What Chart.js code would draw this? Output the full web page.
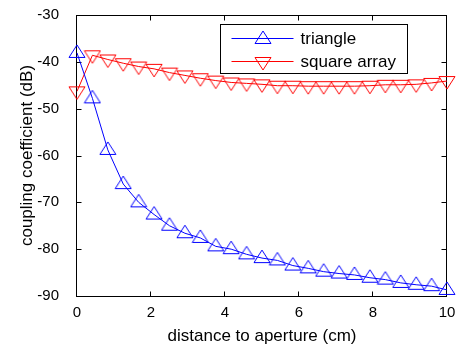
<!DOCTYPE html>
<html><head><meta charset="utf-8">
<script src="https://cdn.jsdelivr.net/npm/chart.js@4/dist/chart.umd.min.js"></script>
<style>html,body{margin:0;padding:0;background:#fff;overflow:hidden;}</style>
</head><body>
<canvas id="c" width="458" height="347"></canvas>
<script>
// ---- data ----
const distance = [0, 0.417, 0.833, 1.25, 1.667, 2.083, 2.5, 2.917, 3.333, 3.75, 4.167, 4.583, 5, 5.417, 5.833, 6.25, 6.667, 7.083, 7.5, 7.917, 8.333, 8.75, 9.167, 9.583, 10];
const triangle = [-38.1, -47.8, -58.8, -66.1, -70.0, -72.6, -75.0, -76.6, -77.6, -79.4, -80.0, -81.1, -81.9, -82.4, -83.5, -84.1, -84.8, -85.2, -85.5, -86.1, -86.5, -87.2, -87.6, -87.9, -88.7];
const squareArray = [-46.3, -38.6, -39.5, -40.3, -41.0, -41.5, -42.3, -42.9, -43.5, -44.0, -44.4, -44.6, -44.8, -45.1, -45.1, -45.2, -45.2, -45.2, -45.2, -45.1, -44.9, -44.9, -44.8, -44.5, -44.1];
const xTicks = [0, 2, 4, 6, 8, 10];
const yTicks = [-90, -80, -70, -60, -50, -40, -30];
const seriesNames = ['triangle', 'square array'];
const xTitle = 'distance to aperture (cm)';
const yTitle = 'coupling coefficient (dB)';

const FONT = 'Liberation Sans, Arial, Helvetica, sans-serif';

function makeTri(color, down) {
  const c = document.createElement('canvas');
  c.width = 18; c.height = 18;
  const g = c.getContext('2d');
  g.strokeStyle = color; g.lineWidth = 1;
  g.beginPath();
  if (!down) { g.moveTo(9, 1); g.lineTo(17, 13.5); g.lineTo(1, 13.5); }
  else { g.moveTo(1, 4.5); g.lineTo(17, 4.5); g.lineTo(9, 17); }
  g.closePath(); g.stroke();
  return c;
}
const triUp = makeTri('#0000ff', false);
const triDown = makeTri('#ff0000', true);

const boxPlugin = {
  id: 'box',
  beforeDatasetsDraw(chart) {
    const {ctx, chartArea: a, scales} = chart;
    ctx.save();
    ctx.strokeStyle = '#000'; ctx.lineWidth = 1;
    const L = Math.round(a.left) - 0.5, R = Math.round(a.right) - 0.5;
    const T = Math.round(a.top) + 0.5, B = Math.round(a.bottom) + 0.5;
    ctx.strokeRect(L, T, R - L, B - T);
    const tl = 5;
    ctx.beginPath();
    xTicks.forEach(v => {
      const p = Math.round(scales.x.getPixelForValue(v)) - 0.5;
      ctx.moveTo(p, B); ctx.lineTo(p, B - tl);
      ctx.moveTo(p, T); ctx.lineTo(p, T + tl);
    });
    yTicks.forEach(v => {
      const p = Math.round(scales.y.getPixelForValue(v)) + 0.5;
      ctx.moveTo(L, p); ctx.lineTo(L + tl, p);
      ctx.moveTo(R, p); ctx.lineTo(R - tl, p);
    });
    ctx.stroke();
    ctx.restore();
  }
};

const legendPlugin = {
  id: 'mlegend',
  afterDatasetsDraw(chart) {
    const {ctx, chartArea: a} = chart;
    const w = 187, h = 49;
    const left = Math.round(a.right) - 40 - w + 0.5;
    const top = Math.round(a.top) + 9 + 0.5;
    ctx.save();
    ctx.fillStyle = '#fff';
    ctx.fillRect(left, top, w, h);
    ctx.strokeStyle = '#000'; ctx.lineWidth = 1;
    ctx.strokeRect(left, top, w, h);
    chart.data.datasets.forEach((ds, i) => {
      const y = Math.round(top + 13 + i * 23) + 0.5;
      ctx.strokeStyle = ds.borderColor;
      ctx.beginPath(); ctx.moveTo(left + 11, y); ctx.lineTo(left + 73, y); ctx.stroke();
      const img = ds.pointStyle;
      ctx.drawImage(img, Math.round(left + 42) - 9, Math.round(y) - 9);
      ctx.fillStyle = '#000';
      ctx.font = '17px ' + FONT;
      ctx.textBaseline = 'middle';
      ctx.textAlign = 'left';
      ctx.fillText(ds.label, left + 80, y + 1);
    });
    ctx.restore();
  }
};

new Chart(document.getElementById('c'), {
  type: 'line',
  data: {
    datasets: [
      { label: seriesNames[0], data: distance.map((x, i) => ({x, y: triangle[i]})),
        borderColor: '#0000ff', borderWidth: 1, pointStyle: triUp, pointRadius: 8,
        clip: false, tension: 0, fill: false },
      { label: seriesNames[1], data: distance.map((x, i) => ({x, y: squareArray[i]})),
        borderColor: '#ff0000', borderWidth: 1, pointStyle: triDown, pointRadius: 8,
        clip: false, tension: 0, fill: false }
    ]
  },
  options: {
    responsive: false, animation: false, devicePixelRatio: 1,
    layout: { padding: { left: 0, right: 11, top: 15, bottom: 0 } },
    plugins: { legend: { display: false }, tooltip: { enabled: false } },
    scales: {
      x: {
        type: 'linear', min: 0, max: 10,
        afterBuildTicks: s => { s.ticks = xTicks.map(v => ({value: v})); },
        afterFit: s => { s.height = 51; s.paddingLeft = 0; s.paddingRight = 0; },
        grid: { display: false }, border: { display: false },
        ticks: { color: '#000', font: { family: FONT, size: 15 }, padding: 0, maxRotation: 0, autoSkip: false },
        title: { display: true, text: xTitle, color: '#000', font: { family: FONT, size: 17, lineHeight: 1.2 }, padding: { top: 0, bottom: 0 } }
      },
      y: {
        type: 'linear', min: -90, max: -30,
        afterBuildTicks: s => { s.ticks = yTicks.map(v => ({value: v})); },
        afterFit: s => { s.width = 77; s.paddingTop = 0; s.paddingBottom = 0; },
        grid: { display: false }, border: { display: false },
        ticks: { color: '#000', font: { family: FONT, size: 15 }, padding: 10, autoSkip: false },
        title: { display: true, text: yTitle, color: '#000', font: { family: FONT, size: 17, lineHeight: 1.2 }, padding: { top: 17, bottom: 0 } }
      }
    }
  },
  plugins: [boxPlugin, legendPlugin]
});
</script>
</body></html>
